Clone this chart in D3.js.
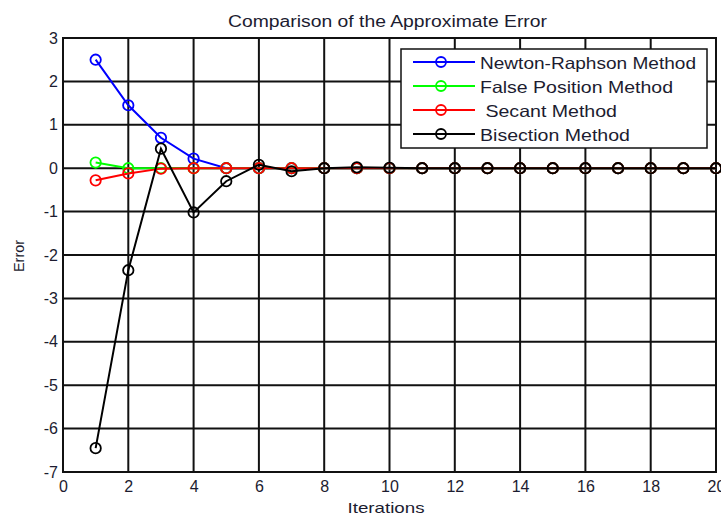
<!DOCTYPE html>
<html>
<head>
<meta charset="utf-8">
<script src="https://cdn.jsdelivr.net/npm/d3@7"></script>
<style>
  body { margin: 0; background: #fff; }
  text { font-family: "Liberation Sans", Arial, sans-serif; fill: #1c1c30; }
</style>
</head>
<body>
<div id="chartContainer"></div>
<script>
// Values
const iterations = d3.range(1, 21);
const newton = [2.5, 1.45, 0.7, 0.22, 0, 0, 0, 0, 0, 0, 0, 0, 0, 0, 0, 0, 0, 0, 0, 0];
const falsePos = [0.13, 0.0, 0, 0, 0, 0, 0, 0, 0, 0, 0, 0, 0, 0, 0, 0, 0, 0, 0, 0];
const secant = [-0.28, -0.12, -0.01, 0, 0, 0, 0, 0, 0, 0, 0, 0, 0, 0, 0, 0, 0, 0, 0, 0];
const bisection = [-6.45, -2.35, 0.45, -1.02, -0.3, 0.08, -0.07, 0, 0.02, 0.01, 0, 0, 0, 0, 0, 0, 0, 0, 0, 0];

const seriesNames = ["Newton-Raphson Method", "False Position Method", " Secant Method", "Bisection Method"];
const seriesColors = ["#0000ff", "#00ff00", "#ff0000", "#000000"];
const seriesValues = [newton, falsePos, secant, bisection];

const xTicks = d3.range(0, 21, 2);
const yTicks = d3.range(-7, 4, 1);

// Set up the dimensions and margins for the chart
const margin = { top: 38, right: 5, bottom: 43, left: 63 };
const width = 721 - margin.left - margin.right;
const height = 515 - margin.top - margin.bottom;

const svg = d3.select("#chartContainer")
  .append("svg")
  .attr("width", 721)
  .attr("height", 515);

const g = svg.append("g")
  .attr("transform", `translate(${margin.left}, ${margin.top})`);

const xScale = d3.scaleLinear().domain([0, 20]).range([0, width]);
const yScale = d3.scaleLinear().domain([-7, 3]).range([height, 0]);

// Grid lines (solid black, MATLAB style)
g.append("g")
  .selectAll("line")
  .data(xTicks)
  .enter()
  .append("line")
  .attr("x1", d => xScale(d))
  .attr("x2", d => xScale(d))
  .attr("y1", 0)
  .attr("y2", height)
  .attr("stroke", "#111")
  .attr("stroke-width", 2);

g.append("g")
  .selectAll("line")
  .data(yTicks)
  .enter()
  .append("line")
  .attr("x1", 0)
  .attr("x2", width)
  .attr("y1", d => yScale(d))
  .attr("y2", d => yScale(d))
  .attr("stroke", "#111")
  .attr("stroke-width", 2);

// Axes frame
g.append("rect")
  .attr("width", width)
  .attr("height", height)
  .attr("fill", "none")
  .attr("stroke", "#111")
  .attr("stroke-width", 2);

// x axis labels (plain hyphen minus, like MATLAB)
g.append("g")
  .attr("transform", `translate(0, ${height})`)
  .call(d3.axisBottom(xScale).tickValues(xTicks).tickSize(0).tickPadding(9).tickFormat(d => String(d)))
  .call(ax => ax.select(".domain").remove())
  .selectAll("text")
  .attr("font-size", "16px")
  .attr("font-family", null);

// y axis labels
g.append("g")
  .call(d3.axisLeft(yScale).tickValues(yTicks).tickSize(0).tickPadding(5).tickFormat(d => String(d)))
  .call(ax => ax.select(".domain").remove())
  .selectAll("text")
  .attr("font-size", "16px")
  .attr("font-family", null);

// Lines and markers
const line = d3.line()
  .x((d, i) => xScale(iterations[i]))
  .y(d => yScale(d));

seriesValues.forEach((vals, k) => {
  g.append("path")
    .datum(vals)
    .attr("fill", "none")
    .attr("stroke", seriesColors[k])
    .attr("stroke-width", 2)
    .attr("d", line);

  g.selectAll(".m" + k)
    .data(vals)
    .enter()
    .append("circle")
    .attr("class", "m" + k)
    .attr("cx", (d, i) => xScale(iterations[i]))
    .attr("cy", d => yScale(d))
    .attr("r", 5.2)
    .attr("fill", "none")
    .attr("stroke", seriesColors[k])
    .attr("stroke-width", 1.8);
});

// Title
svg.append("text")
  .attr("x", 387.5)
  .attr("y", 27)
  .attr("text-anchor", "middle")
  .attr("font-size", "16px")
  .attr("textLength", 319)
  .attr("lengthAdjust", "spacingAndGlyphs")
  .text("Comparison of the Approximate Error");

// Axis titles
svg.append("text")
  .attr("x", 386)
  .attr("y", 513)
  .attr("text-anchor", "middle")
  .attr("font-size", "15px")
  .attr("textLength", 77)
  .attr("lengthAdjust", "spacingAndGlyphs")
  .text("Iterations");

svg.append("text")
  .attr("transform", "translate(24, 256) rotate(-90)")
  .attr("text-anchor", "middle")
  .attr("font-size", "15px")
  .attr("textLength", 32)
  .attr("lengthAdjust", "spacingAndGlyphs")
  .text("Error");

// Legend
const legendWidths = [216, 193, 137, 150];
const legend = svg.append("g").attr("transform", "translate(401, 49)");
legend.append("rect")
  .attr("width", 306)
  .attr("height", 99)
  .attr("fill", "#fff")
  .attr("stroke", "#111")
  .attr("stroke-width", 1.5);

seriesNames.forEach((name, k) => {
  const y = 13 + k * 24;
  legend.append("line")
    .attr("x1", 12).attr("x2", 74)
    .attr("y1", y).attr("y2", y)
    .attr("stroke", seriesColors[k])
    .attr("stroke-width", 2);
  legend.append("circle")
    .attr("cx", 40).attr("cy", y).attr("r", 5)
    .attr("fill", "none")
    .attr("stroke", seriesColors[k])
    .attr("stroke-width", 1.8);
  legend.append("text")
    .attr("x", 79)
    .attr("y", y + 7)
    .attr("font-size", "16.5px")
    .attr("xml:space", "preserve")
    .style("white-space", "pre")
    .attr("textLength", legendWidths[k])
    .attr("lengthAdjust", "spacingAndGlyphs")
    .text(name);
});
</script>
</body>
</html>
